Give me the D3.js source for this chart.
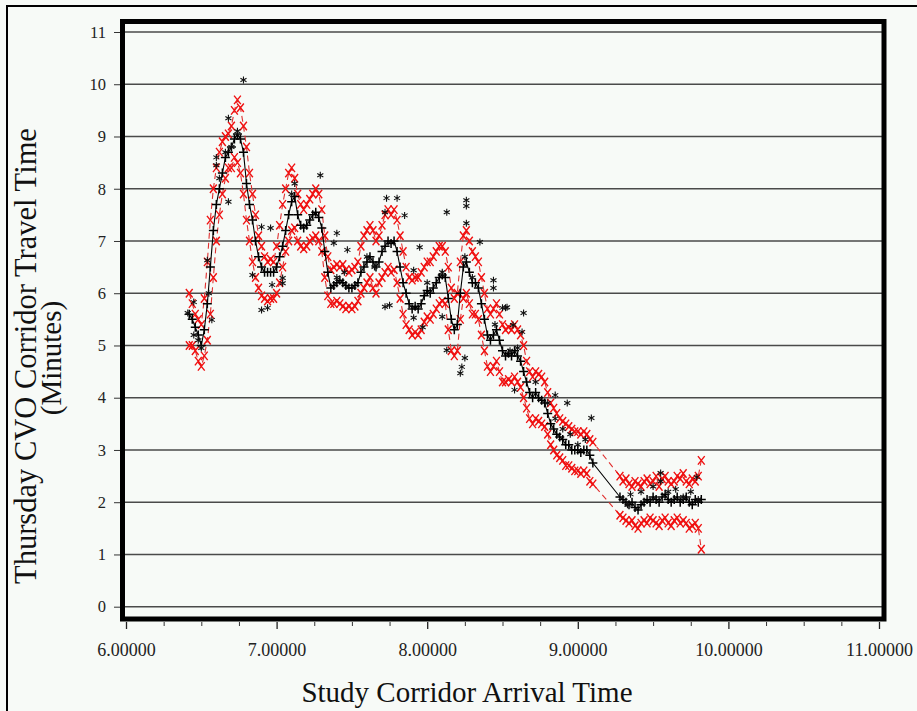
<!doctype html>
<html>
 <head>
  <meta charset='utf-8'>
  <title>Thursday CVO Corridor Travel Time</title>
  <style>
    html,body{margin:0;background:#f7faf7;}
    svg{display:block;font-family:'Liberation Serif','Times New Roman',serif;}
  </style>
 </head>
 <body>
  <svg id='chart' width='917' height='711'></svg>
  <script src='https://cdn.jsdelivr.net/npm/d3@7/dist/d3.min.js'></script>
  <script>

   // arrival time (decimal hours) shared by the three smoothed series
   var times = [
     6.42,6.44,6.46,6.48,6.50,6.52,6.54,6.56,6.58,6.60,
     6.62,6.64,6.66,6.68,6.70,6.72,6.74,6.76,6.78,6.80,
     6.82,6.84,6.86,6.88,6.90,6.92,6.94,6.96,6.98,7.00,
     7.02,7.04,7.06,7.08,7.10,7.12,7.14,7.16,7.18,7.20,
     7.22,7.24,7.26,7.28,7.30,7.32,7.34,7.36,7.38,7.40,
     7.42,7.44,7.46,7.48,7.50,7.52,7.54,7.56,7.58,7.60,
     7.62,7.64,7.66,7.68,7.70,7.72,7.74,7.76,7.78,7.80,
     7.82,7.84,7.86,7.88,7.90,7.92,7.94,7.96,7.98,8.00,
     8.02,8.04,8.06,8.08,8.10,8.12,8.14,8.16,8.18,8.20,
     8.22,8.24,8.26,8.28,8.30,8.32,8.34,8.36,8.38,8.40,
     8.42,8.44,8.46,8.48,8.50,8.52,8.54,8.56,8.58,8.60,
     8.62,8.64,8.66,8.68,8.70,8.72,8.74,8.76,8.78,8.80,
     8.82,8.84,8.86,8.88,8.90,8.92,8.94,8.96,8.98,9.00,
     9.02,9.04,9.06,9.08,9.10,
     9.28,9.30,9.32,9.34,9.36,9.38,9.40,9.42,9.44,9.46,
     9.48,9.50,9.52,9.54,9.56,9.58,9.60,9.62,9.64,9.66,
     9.68,9.70,9.72,9.74,9.76,9.78,9.80,9.82
   ]

   // smoothed travel time (black +, solid)
   var meanTime = [
     5.6,5.5,5.35,5.2,5.0,5.3,5.8,6.5,7.2,7.7,
     8.0,8.3,8.6,8.7,8.8,8.95,9.05,8.95,8.7,8.1,
     7.7,7.4,7.0,6.7,6.5,6.4,6.4,6.4,6.4,6.5,
     6.7,6.9,7.2,7.5,7.75,7.85,7.5,7.3,7.25,7.3,
     7.4,7.5,7.55,7.45,7.25,6.8,6.4,6.1,6.15,6.2,
     6.25,6.2,6.15,6.1,6.1,6.15,6.2,6.4,6.5,6.6,
     6.7,6.6,6.5,6.6,6.8,6.9,7.0,6.95,7.0,6.8,
     6.5,6.2,6.0,5.8,5.7,5.75,5.7,5.8,5.95,6.05,
     6.0,6.1,6.2,6.3,6.35,6.3,5.9,5.5,5.3,5.4,
     6.0,6.5,6.6,6.4,6.2,6.2,6.1,5.8,5.5,5.2,
     5.1,5.2,5.3,5.1,4.9,4.8,4.85,4.8,4.9,4.8,
     4.7,4.5,4.3,4.1,4.0,4.1,4.0,3.95,3.9,3.7,
     3.5,3.4,3.3,3.25,3.2,3.1,3.1,3.0,3.0,3.0,
     2.95,3.0,3.0,2.9,2.75,
     2.1,2.05,2.0,1.95,2.0,1.9,1.85,1.95,2.0,2.05,
     2.0,2.1,2.05,2.0,2.1,2.15,2.05,2.0,2.05,2.1,
     2.0,2.05,2.1,2.0,1.95,2.05,2.0,2.05
   ]

   // upper band (red x, dashed)
   var upperTime = [
     6.0,5.8,5.6,5.5,5.4,5.9,6.6,7.4,8.0,8.4,
     8.7,8.9,9.0,9.05,9.2,9.5,9.7,9.55,9.2,8.8,
     8.3,7.9,7.5,7.1,6.9,6.7,6.6,6.65,6.6,6.9,
     7.3,7.7,8.0,8.3,8.4,8.2,7.9,7.7,7.6,7.7,
     7.8,7.9,8.0,7.9,7.6,7.1,6.7,6.45,6.5,6.55,
     6.5,6.55,6.45,6.4,6.45,6.5,6.6,6.9,7.1,7.2,
     7.3,7.2,7.0,7.1,7.3,7.5,7.6,7.5,7.6,7.4,
     7.1,6.8,6.5,6.3,6.25,6.3,6.3,6.4,6.5,6.6,
     6.6,6.7,6.8,6.9,6.9,6.8,6.5,6.1,5.9,6.0,
     6.6,7.1,7.2,7.0,6.8,6.7,6.6,6.3,6.0,5.7,
     5.6,5.7,5.8,5.6,5.4,5.3,5.35,5.3,5.4,5.3,
     5.2,5.0,4.7,4.5,4.4,4.5,4.45,4.4,4.3,4.1,
     3.9,3.8,3.7,3.6,3.55,3.5,3.45,3.4,3.35,3.35,
     3.3,3.35,3.3,3.2,3.15,
     2.5,2.4,2.45,2.35,2.3,2.4,2.35,2.3,2.4,2.45,
     2.35,2.4,2.5,2.3,2.45,2.5,2.4,2.35,2.4,2.5,
     2.45,2.55,2.4,2.35,2.45,2.4,2.5,2.8
   ]

   // lower band (red x, dashed)
   var lowerTime = [
     5.0,5.0,4.9,4.7,4.6,4.8,5.1,5.6,6.3,7.0,
     7.5,7.9,8.2,8.4,8.4,8.6,8.5,8.3,7.9,7.4,
     7.0,6.6,6.3,6.1,5.95,5.9,5.85,5.9,5.9,6.0,
     6.2,6.5,6.8,7.0,7.2,7.25,7.0,6.9,6.85,6.9,
     7.0,7.05,7.1,7.0,6.8,6.3,5.95,5.8,5.8,5.85,
     5.8,5.75,5.7,5.75,5.7,5.75,5.85,6.0,6.1,6.2,
     6.3,6.1,6.0,6.2,6.3,6.4,6.5,6.4,6.45,6.2,
     5.9,5.6,5.4,5.3,5.2,5.25,5.2,5.3,5.45,5.55,
     5.5,5.6,5.7,5.8,5.85,5.8,5.3,4.9,4.8,4.9,
     5.5,5.9,6.0,5.8,5.6,5.6,5.5,5.2,4.9,4.6,
     4.5,4.6,4.7,4.5,4.3,4.3,4.35,4.3,4.4,4.3,
     4.2,4.0,3.8,3.6,3.5,3.6,3.55,3.5,3.45,3.3,
     3.1,3.0,2.9,2.85,2.8,2.7,2.7,2.65,2.6,2.6,
     2.55,2.6,2.55,2.4,2.35,
     1.75,1.7,1.65,1.6,1.65,1.55,1.5,1.6,1.65,1.6,
     1.7,1.65,1.6,1.55,1.65,1.7,1.6,1.55,1.65,1.7,
     1.6,1.65,1.6,1.5,1.55,1.6,1.5,1.1
   ]

   // individual observations (black *)
   var rawTimes = [
     6.78,6.68,6.60,6.60,6.68,6.90,6.96,7.29,6.45,6.41,
     6.57,6.54,6.84,6.90,6.94,7.04,6.97,7.04,7.40,7.47,
     7.38,7.73,7.80,7.72,7.85,7.95,7.91,8.13,8.26,8.26,
     8.26,8.35,8.44,8.44,7.75,7.72,8.10,7.91,7.97,8.13,
     8.25,8.23,8.22,8.53,8.64,8.52,8.50,8.57,8.63,8.93,
     8.85,9.09,8.58,9.55,9.79,
     9.33,9.35,9.42,9.50,9.55,9.60,9.65,9.70,9.75,9.80,
     8.72,8.80,8.85,8.90,8.95,9.00,9.05,
     6.45,6.48,6.50,6.55,6.62,6.66,6.70,6.74,
     7.10,7.12,7.40,7.45,7.60,7.65,8.00,8.10,8.25,8.30,
     8.45,8.55,8.60
   ]
   var rawValues = [
     10.08,9.35,8.60,8.45,7.75,7.27,7.25,8.26,5.83,5.62,
     5.49,6.63,6.35,5.68,5.72,6.19,6.16,6.29,7.15,6.83,
     6.96,7.82,7.82,7.55,7.49,6.88,6.44,7.55,7.78,7.67,
     7.34,6.98,6.25,6.10,5.77,5.74,5.55,5.53,5.35,4.91,
     4.76,4.59,4.47,5.73,5.62,5.72,5.72,5.39,5.26,3.90,
     4.05,3.61,4.15,2.56,2.48,
     1.95,2.15,2.2,2.3,2.4,2.2,2.25,2.1,2.2,2.05,
     4.3,3.9,3.6,3.4,3.3,3.1,3.2,
     5.2,5.1,4.95,6.0,8.2,8.7,8.8,9.1,
     7.9,8.1,6.3,6.4,6.7,6.5,6.2,6.4,6.7,6.3,
     5.4,4.9,4.95
   ]

   // axis ticks
   var xMajor = [6,7,8,9,10,11]
   var xMinor = [6.25,6.5,6.75,7.25,7.5,7.75,8.25,8.5,8.75,9.25,9.5,9.75,10.25,10.5,10.75]
   var yTicks = [0,1,2,3,4,5,6,7,8,9,10,11]

   var svg = d3.select('#chart')

   var x = d3.scaleLinear().domain([6,11]).range([126,879])
   var y = d3.scaleLinear().domain([0,11]).range([606.7,32])

   /*
    * outer frame (top / left edges of the original picture)
    */
   svg.append('line').attr('x1',6).attr('x2',917).attr('y1',6).attr('y2',6)
      .attr('stroke','#000').attr('stroke-width',2)
   svg.append('line').attr('x1',7).attr('x2',7).attr('y1',5).attr('y2',711)
      .attr('stroke','#000').attr('stroke-width',2)

   /*
    * grid
    */
   svg.append('g').selectAll('line').data(yTicks).join('line')
      .attr('x1',122).attr('x2',884)
      .attr('y1',function(d){ return y(d) }).attr('y2',function(d){ return y(d) })
      .attr('stroke','#4a4a4a').attr('stroke-width',1.6)

   /*
    * axes
    */
   var gy = svg.append('g').attr('transform','translate(120,0)')
      .call(d3.axisLeft(y).tickValues(yTicks).tickSize(6).tickPadding(8).tickFormat(d3.format('d')))
   gy.select('.domain').remove()
   gy.selectAll('text').attr('font-size',16.5).attr('font-family','Liberation Serif').attr('fill','#222')
   gy.selectAll('line').attr('stroke','#333')

   var gx = svg.append('g').attr('transform','translate(0,622)')
      .call(d3.axisBottom(x).tickValues(xMajor).tickSize(7).tickPadding(14).tickFormat(d3.format('.5f')))
   gx.select('.domain').remove()
   gx.selectAll('text').attr('font-size',18).attr('font-family','Liberation Serif').attr('fill','#222')
   gx.selectAll('line').attr('stroke','#222').attr('stroke-width',1.3)

   var gm = svg.append('g').attr('transform','translate(0,622)')
      .call(d3.axisBottom(x).tickValues(xMinor).tickSize(4).tickFormat(''))
   gm.select('.domain').remove()
   gm.selectAll('line').attr('stroke','#333')

   /*
    * marker shapes
    */
   var plusType = {draw:function(c,s){ var r=Math.sqrt(s)/2; c.moveTo(-r,0);c.lineTo(r,0);c.moveTo(0,-r);c.lineTo(0,r) }}
   var crossType = {draw:function(c,s){ var r=Math.sqrt(s)/2; c.moveTo(-r*0.8,-r);c.lineTo(r*0.8,r);c.moveTo(r*0.8,-r);c.lineTo(-r*0.8,r) }}
   var starType = {draw:function(c,s){ var r=Math.sqrt(s)/2; c.moveTo(0,-r);c.lineTo(0,r);c.moveTo(-r*0.87,-r/2);c.lineTo(r*0.87,r/2);c.moveTo(r*0.87,-r/2);c.lineTo(-r*0.87,r/2) }}

   var rows = times.map(function(t,i){ return {t:t,m:meanTime[i],u:upperTime[i],l:lowerTime[i]} })
   var raw = rawTimes.map(function(t,i){ return {t:t,v:rawValues[i]} })

   var plot = svg.append('g')

   function band(key){
     return d3.line().x(function(d){ return x(d.t) }).y(function(d){ return y(d[key]) })
   }

   // red bands
   ;['u','l'].forEach(function(k){
     plot.append('path').datum(rows).attr('d',band(k))
         .attr('fill','none').attr('stroke','#e03030').attr('stroke-width',1.1).attr('stroke-dasharray','6,4')
   })
   ;['u','l'].forEach(function(k){
     plot.append('g').selectAll('path').data(rows).join('path')
         .attr('d',d3.symbol().type(crossType).size(72))
         .attr('transform',function(d){ return 'translate('+x(d.t)+','+y(d[k])+')' })
         .attr('fill','none').attr('stroke','#f01010').attr('stroke-width',1.4)
   })

   // black mean
   plot.append('path').datum(rows).attr('d',band('m'))
       .attr('fill','none').attr('stroke','#000').attr('stroke-width',1.1)
   plot.append('g').selectAll('path').data(rows).join('path')
       .attr('d',d3.symbol().type(plusType).size(81))
       .attr('transform',function(d){ return 'translate('+x(d.t)+','+y(d.m)+')' })
       .attr('fill','none').attr('stroke','#000').attr('stroke-width',1.5)

   // raw observations
   plot.append('g').selectAll('path').data(raw).join('path')
       .attr('d',d3.symbol().type(starType).size(49))
       .attr('transform',function(d){ return 'translate('+x(d.t)+','+y(d.v)+')' })
       .attr('fill','none').attr('stroke','#111').attr('stroke-width',1.1)

   /*
    * plot frame
    */
   svg.append('rect').attr('x',122.5).attr('y',21.5).attr('width',761.5).attr('height',597.5)
      .attr('fill','none').attr('stroke','#000').attr('stroke-width',5)

   /*
    * titles
    */
   var yl = svg.append('text').attr('transform','translate(36,356) rotate(-90)')
      .attr('text-anchor','middle').attr('font-size',30.5).attr('fill','#111')
   yl.append('tspan').attr('x',0).attr('y',0).text('Thursday CVO Corridor Travel Time')
   yl.append('tspan').attr('x',-2).attr('y',25).attr('font-size',29).text('(Minutes)')

   svg.append('text').attr('x',467).attr('y',702).attr('text-anchor','middle')
      .attr('font-size',29).attr('fill','#111').text('Study Corridor Arrival Time')

  </script>
 </body>
</html>
